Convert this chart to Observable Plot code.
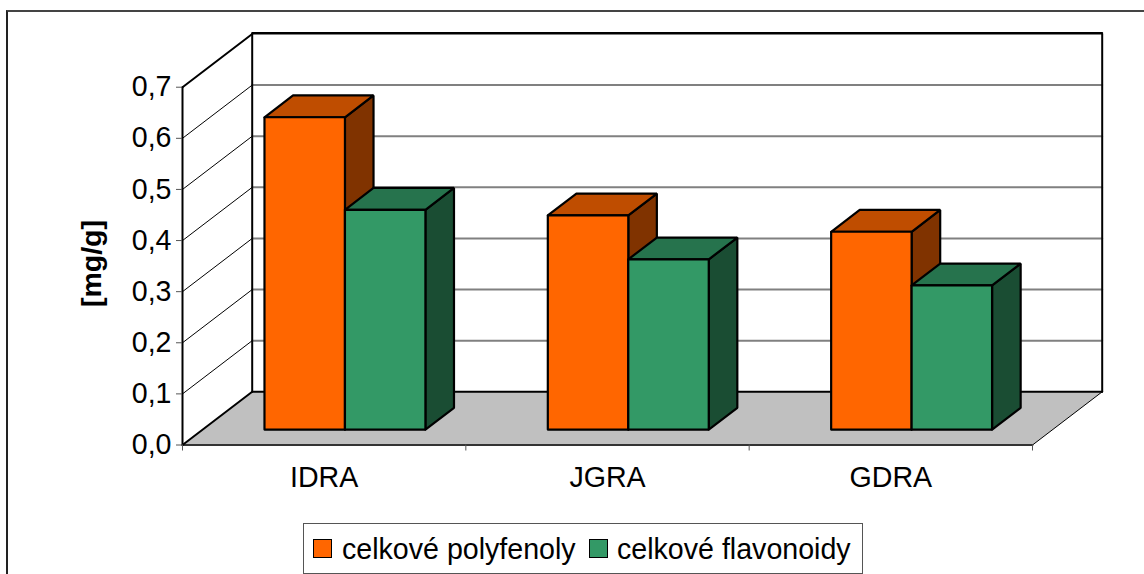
<!DOCTYPE html>
<html>
<head>
<meta charset="utf-8">
<script src="https://cdn.jsdelivr.net/npm/d3@7"></script>
<script src="https://cdn.jsdelivr.net/npm/@observablehq/plot@0.6"></script>
<style>
  html, body { margin: 0; padding: 0; background: #fff; overflow: hidden; }
  #page { position: relative; width: 1144px; height: 574px; overflow: hidden; font-family: "Liberation Sans", Arial, sans-serif; }
  #frame { position: absolute; left: 6px; top: 10px; width: 1200px; height: 700px; border-left: 2px solid #222; border-top: 2px solid #444; }
  #chart { position: absolute; left: 0; top: 0; }
  #chart svg { display: block; background: transparent !important; }
  #legend { position: absolute; left: 303px; top: 523px; width: 558px; height: 49px; box-sizing: content-box; border: 1px solid #555; background: #fff; font-size: 28.6px; color: #000; }
  #legend .sw { position: absolute; top: 15px; width: 17px; height: 17px; border: 1.5px solid #000; }
  #legend .lb { position: absolute; top: 9px; white-space: nowrap; line-height: 32px; }
</style>
</head>
<body>
<div id="page">
  <div id="frame"></div>
  <div id="chart"></div>
  <div id="legend"></div>
</div>
<script>
const categories = ["IDRA", "JGRA", "GDRA"];
const seriesNames = ["celkové polyfenoly", "celkové flavonoidy"];
const polyfenoly = [0.611, 0.419, 0.387];
const flavonoidy = [0.430, 0.333, 0.282];
const yTicks = [0, 0.1, 0.2, 0.3, 0.4, 0.5, 0.6, 0.7];
const xEdges = [0, 1, 2, 3];
const frontColors = ["#FF6600", "#339966"];
const topColors = ["#BF4D00", "#26734D"];
const sideColors = ["#803300", "#1A4D33"];

// oblique projection of the 3D chart box, in data units
const depthX = 0.246, depthY = 0.1041;
const gap = 0.218, barW = 0.284, dStart = 0.29, dEnd = 0.70;
const yMax = 0.7, xMax = 3;

const pt = (c, v, d) => ({x: c + d * depthX, y: v + d * depthY});
const poly = (id, corners) => corners.concat([corners[0]]).map(([c, v, d]) => ({id, ...pt(c, v, d)}));

function barFaces(values, s) {
  const front = [], top = [], side = [];
  values.forEach((v, i) => {
    const l = i + gap + s * barW, r = l + barW;
    front.push(...poly(i, [[l, 0, dStart], [r, 0, dStart], [r, v, dStart], [l, v, dStart]]));
    top.push(...poly(i, [[l, v, dStart], [r, v, dStart], [r, v, dEnd], [l, v, dEnd]]));
    side.push(...poly(i, [[r, 0, dStart], [r, 0, dEnd], [r, v, dEnd], [r, v, dStart]]));
  });
  return {front, top, side};
}
const barStyle = {x: "x", y: "y", z: "id", stroke: "#000", strokeWidth: 2.2, strokeLinejoin: "miter"};
function barMarks(values, s) {
  const f = barFaces(values, s);
  return [
    Plot.line(f.side, {...barStyle, fill: sideColors[s]}),
    Plot.line(f.top, {...barStyle, fill: topColors[s]}),
    Plot.line(f.front, {...barStyle, fill: frontColors[s]})
  ];
}

const backGrid = yTicks.filter(v => v > 0).flatMap(v => [{id: v, ...pt(0, v, 1)}, {id: v, ...pt(xMax, v, 1)}]);
const sideGrid = yTicks.filter(v => v > 0 && v < yMax).flatMap(v => [{id: v, ...pt(0, v, 0)}, {id: v, ...pt(0, v, 1)}]);
const floor = poly(0, [[0, 0, 0], [xMax, 0, 0], [xMax, 0, 1], [0, 0, 1]]);
const seg = (a, b) => [pt(...a), pt(...b)];
const xy = {x: "x", y: "y"};
const commaFmt = d => d.toFixed(1).replace(".", ",");
const FS = 28.6;

const plot = Plot.plot({
  width: 1144, height: 574,
  marginLeft: 182, marginRight: 42.3, marginTop: 33.5, marginBottom: 129.5,
  x: {domain: [0, xMax + depthX], range: [182, 1101.7]},
  y: {domain: [0, yMax + depthY], range: [444.5, 33.5]},
  style: {fontFamily: '"Liberation Sans", Arial, sans-serif', background: "transparent", color: "#000"},
  marks: [
    Plot.line(backGrid, {...xy, z: "id", stroke: "#808080", strokeWidth: 2}),
    Plot.line(sideGrid, {...xy, z: "id", stroke: "#000", strokeWidth: 1}),
    Plot.line(floor, {...xy, z: "id", fill: "#C0C0C0", stroke: "none"}),
    Plot.line(seg([xMax, 0, 0], [xMax, 0, 1]), {...xy, stroke: "#000", strokeWidth: 1}),
    Plot.line(seg([0, 0, 1], [xMax, 0, 1]), {...xy, stroke: "#000", strokeWidth: 2}),
    Plot.line(seg([0, 0, 0], [xMax, 0, 0]), {...xy, stroke: "#333", strokeWidth: 2}),
    Plot.line(seg([0, 0, 0], [0, 0, 1]), {...xy, stroke: "#000", strokeWidth: 2}),
    Plot.line(seg([0, yMax, 1], [xMax, yMax, 1]), {...xy, stroke: "#000", strokeWidth: 2, dy: -1}),
    Plot.line(seg([0, yMax, 0], [0, yMax, 1]), {...xy, stroke: "#000", strokeWidth: 2}),
    Plot.line(seg([0, 0, 0], [0, yMax, 0]), {...xy, stroke: "#000", strokeWidth: 2}),
    Plot.line(seg([0, 0, 1], [0, yMax, 1]), {...xy, stroke: "#000", strokeWidth: 2}),
    Plot.line(seg([xMax, 0, 1], [xMax, yMax, 1]), {...xy, stroke: "#000", strokeWidth: 2}),
    ...barMarks(polyfenoly, 0),
    ...barMarks(flavonoidy, 1),
    Plot.axisY({ticks: yTicks, tickFormat: commaFmt, tickSize: 6, tickPadding: 5, stroke: "#555", fill: "#000", fontSize: FS, label: null}),
    Plot.axisX({ticks: xEdges, tickFormat: () => "", tickSize: 6, stroke: "#555", label: null}),
    Plot.axisX({ticks: categories.map((_, i) => i + 0.5), tickFormat: d => categories[Math.floor(d)], tickSize: 0, tickPadding: 22, fill: "#000", fontSize: FS, label: null}),
    Plot.text(["[mg/g]"], {frameAnchor: "left", textAnchor: "middle", dx: -91, y: [0.355], text: d => d, rotate: -90, fontWeight: "bold", fontSize: 28.5, fill: "#000"})
  ]
});
document.getElementById("chart").appendChild(plot);

const legend = document.getElementById("legend");
const swatchLeft = [9, 285], labelLeft = [38, 313];
seriesNames.forEach((name, i) => {
  const sw = document.createElement("div");
  sw.className = "sw"; sw.style.left = swatchLeft[i] + "px"; sw.style.background = frontColors[i];
  const lb = document.createElement("div");
  lb.className = "lb"; lb.style.left = labelLeft[i] + "px"; lb.textContent = name;
  legend.append(sw, lb);
});
</script>
</body>
</html>
